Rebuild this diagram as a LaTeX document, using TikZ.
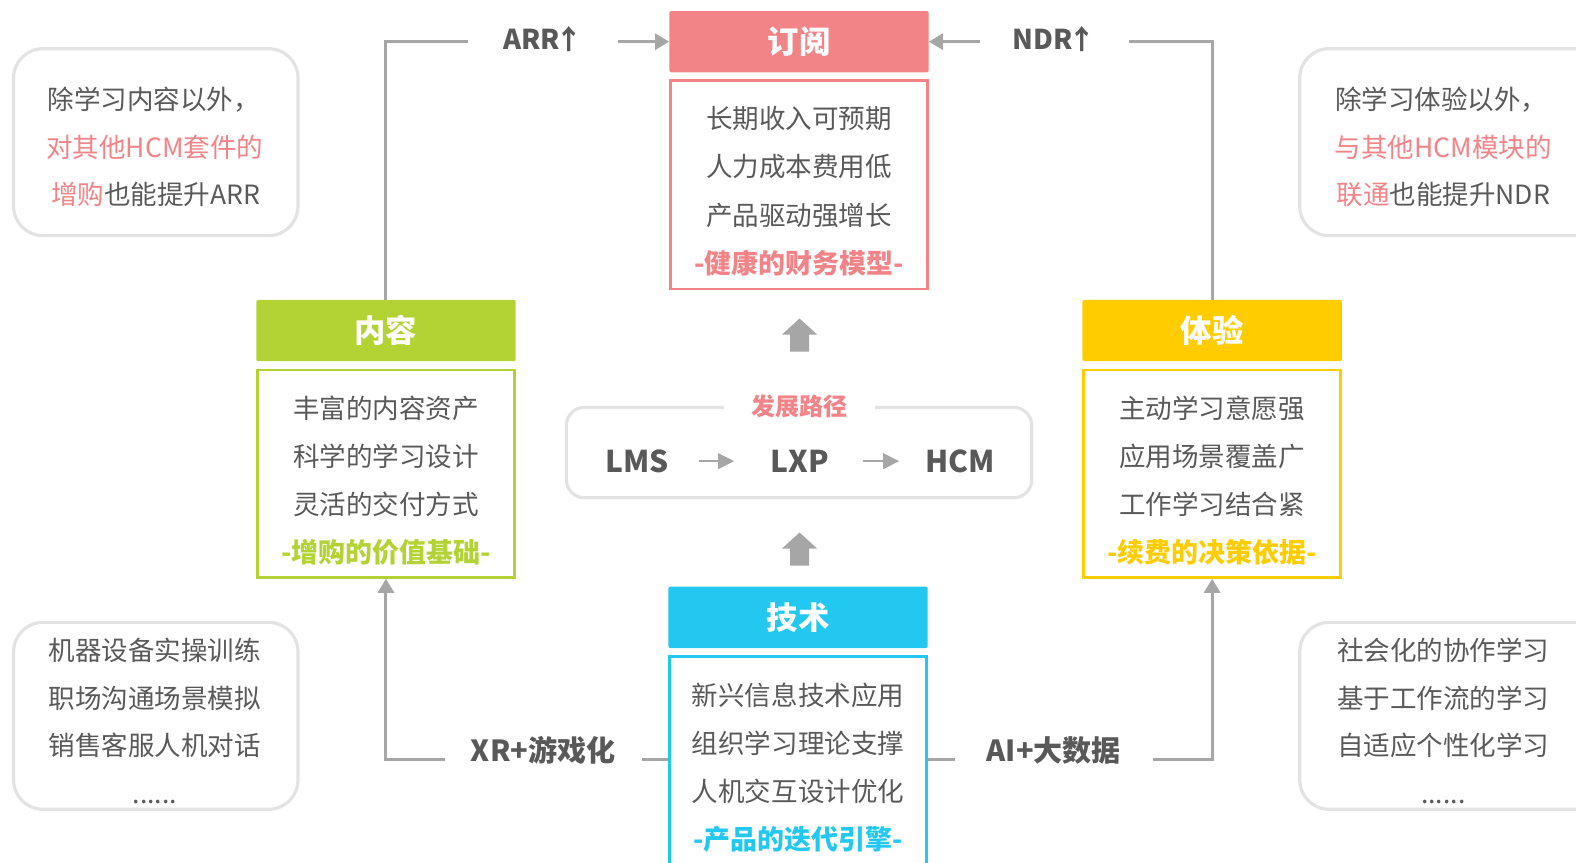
\documentclass[tikz,border=0pt]{standalone}
\usepackage{fontspec}
\setmainfont{Noto Sans CJK SC}
\usetikzlibrary{arrows.meta}
\definecolor{cpink}{HTML}{F28387}
\definecolor{cgreen}{HTML}{B3D334}
\definecolor{cyellow}{HTML}{FFCC00}
\definecolor{ccyan}{HTML}{22C8F0}
\definecolor{ctext}{HTML}{595959}
\definecolor{cline}{HTML}{A6A6A6}
\definecolor{cframe}{HTML}{E3E3E3}
\tikzset{
 hdr/.style={minimum width=194.5pt, minimum height=46pt, inner sep=0pt, rounded corners=1.5pt, text=white, font=\fontsize{23.5}{27}\selectfont\bfseries},
 bodybox/.style={draw, line width=1.9pt, minimum width=192.6pt, fill=white, inner sep=0pt},
 ln/.style={text=ctext, font=\fontsize{19.9}{23}\selectfont, inner sep=0pt},
 tag/.style={font=\fontsize{20.2}{23}\selectfont\bfseries, inner sep=0pt},
 conn/.style={draw=cline, line width=2.2pt},
 tip/.style={-{Triangle[length=10.5pt,width=12pt]}},
 smalltip/.style={-{Triangle[length=12pt,width=11.5pt]}},
 lab/.style={text=ctext, font=\fontsize{20.5}{24}\selectfont\bfseries, inner sep=0pt, minimum height=20pt},
 big/.style={text=ctext, font=\fontsize{22.5}{26}\selectfont\bfseries, inner sep=0pt},
 note/.style={draw=cframe, line width=2.4pt, rounded corners=22pt, inner sep=0pt, minimum height=140.2pt},
}
\begin{document}
\begin{tikzpicture}[x=0.7538pt,y=-0.7535pt]
\useasboundingbox (0,0) rectangle (1568,858);

% note boxes
\node[note, minimum width=213.3pt] (n1) at (155,141.5) {};
\node[note, minimum width=238pt] (n2) at (1451,141.5) {};
\node[note, minimum width=213.3pt] (n3) at (155,712.5) {};
\node[note, minimum width=238pt] (n4) at (1451,712.5) {};

\node[ln] (n1a) at (153,99.5) {除学习内容以外，};
\node[ln] (n1b) at (154,147) {\textcolor{cpink}{对其他HCM套件的}};
\node[ln] (n1c) at (155,194) {\textcolor{cpink}{增购}也能提升ARR};

\node[ln] (n2a) at (1434,99.5) {除学习体验以外，};
\node[ln] (n2b) at (1436,147) {\textcolor{cpink}{与其他HCM模块的}};
\node[ln] (n2c) at (1436,194) {\textcolor{cpink}{联通}也能提升NDR};

\node[ln] (n3a) at (154,647) {机器设备实操训练};
\node[ln] (n3b) at (154,695) {职场沟通场景模拟};
\node[ln] (n3c) at (154,742) {销售客服人机对话};
\node[ln, anchor=base] (n3d) at (154,800) {......};

\node[ln] (n4a) at (1436,647) {社会化的协作学习};
\node[ln] (n4b) at (1436,695) {基于工作流的学习};
\node[ln] (n4c) at (1436,742) {自适应个性化学习};
\node[ln, anchor=base] (n4d) at (1436,800) {......};

% subscription
\node[hdr, fill=cpink] (shd) at (795,41.5) {订阅};
\node[bodybox, draw=cpink, minimum height=156.4pt] (sbody) at (795,184) {};
\node[ln] (s1) at (795,118) {长期收入可预期};
\node[ln] (s2) at (795,166) {人力成本费用低};
\node[ln] (s3) at (795,214) {产品驱动强增长};
\node[tag, text=cpink] (s4) at (795,262) {-健康的财务模型-};

% content
\node[hdr, fill=cgreen] (chd) at (384,329) {内容};
\node[bodybox, draw=cgreen, minimum height=155.7pt] (cbody) at (384,471.5) {};
\node[ln] (c1) at (384,406) {丰富的内容资产};
\node[ln] (c2) at (384,454) {科学的学习设计};
\node[ln] (c3) at (384,502) {灵活的交付方式};
\node[tag, text=cgreen] (c4) at (384,550) {-增购的价值基础-};

% experience
\node[hdr, fill=cyellow] (ehd) at (1206,329) {体验};
\node[bodybox, draw=cyellow, minimum height=155.7pt] (ebody) at (1206,471.5) {};
\node[ln] (e1) at (1206,406) {主动学习意愿强};
\node[ln] (e2) at (1206,454) {应用场景覆盖广};
\node[ln] (e3) at (1206,502) {工作学习结合紧};
\node[tag, text=cyellow] (e4) at (1206,550) {-续费的决策依据-};

% technology
\node[hdr, fill=ccyan] (thd) at (794,614.5) {技术};
\node[bodybox, draw=ccyan, minimum height=166pt] (tbody) at (794,763.5) {};
\node[ln] (t1) at (794,692) {新兴信息技术应用};
\node[ln] (t2) at (794,740) {组织学习理论支撑};
\node[ln] (t3) at (794,788) {人机交互设计优化};
\node[tag, text=ccyan] (t4) at (794,835) {-产品的迭代引擎-};

% development path
\node[draw=cframe, line width=2.4pt, rounded corners=13.5pt, minimum width=349pt, minimum height=67.8pt, inner sep=0pt] (path) at (795,450.5) {};
\node[fill=white, inner sep=0pt, minimum width=113pt, minimum height=20pt, text=cpink, font=\fontsize{18}{22}\selectfont\bfseries] (pathlab) at (795.5,404) {发展路径};
\node[big] (lms) at (634,459) {LMS};
\node[big] (lxp) at (795.5,459) {LXP};
\node[big] (hcm) at (955.5,459) {HCM};
\draw[conn, line width=2pt, smalltip, shorten <=22.6pt, shorten >=27pt] (lms) -- (lxp);
\draw[conn, line width=2pt, smalltip, shorten <=25.6pt, shorten >=19.6pt] (lxp) -- (hcm);

% block arrows
\fill[cline] (795.5,317) -- (813,333) -- (805,333) -- (805,350) -- (786,350) -- (786,333) -- (778,333) -- cycle;
\fill[cline] (795.5,530) -- (813,546) -- (805,546) -- (805,563) -- (786,563) -- (786,546) -- (778,546) -- cycle;

% connector labels
\node[lab, minimum width=112.3pt] (arr) at (540,39) {ARR\kern-3.5pt↑};
\node[lab, minimum width=111.6pt] (ndr) at (1049,39) {NDR\kern-3.5pt↑};
\node[lab, minimum width=147pt, font=\fontsize{21.8}{24}\selectfont\bfseries] (xr) at (540.5,747) {XR+游戏化};
\node[lab, minimum width=148.5pt, font=\fontsize{21.8}{24}\selectfont\bfseries] (ai) at (1048.5,747) {AI+大数据};
\coordinate (ylow) at (0,756);

\draw[conn] (chd.north) |- (arr.west |- shd.west);
\draw[conn, tip] (arr.east |- shd.west) -- (shd.west);
\draw[conn] (ehd.north) |- (ndr.east |- shd.east);
\draw[conn, tip] (ndr.west |- shd.east) -- (shd.east);

\draw[conn] (tbody.west |- ylow) -- (xr.east |- ylow);
\draw[conn, tip] (xr.west |- ylow) -| (cbody.south);
\draw[conn] (tbody.east |- ylow) -- (ai.west |- ylow);
\draw[conn, tip] (ai.east |- ylow) -| (ebody.south);
\end{tikzpicture}
\end{document}
